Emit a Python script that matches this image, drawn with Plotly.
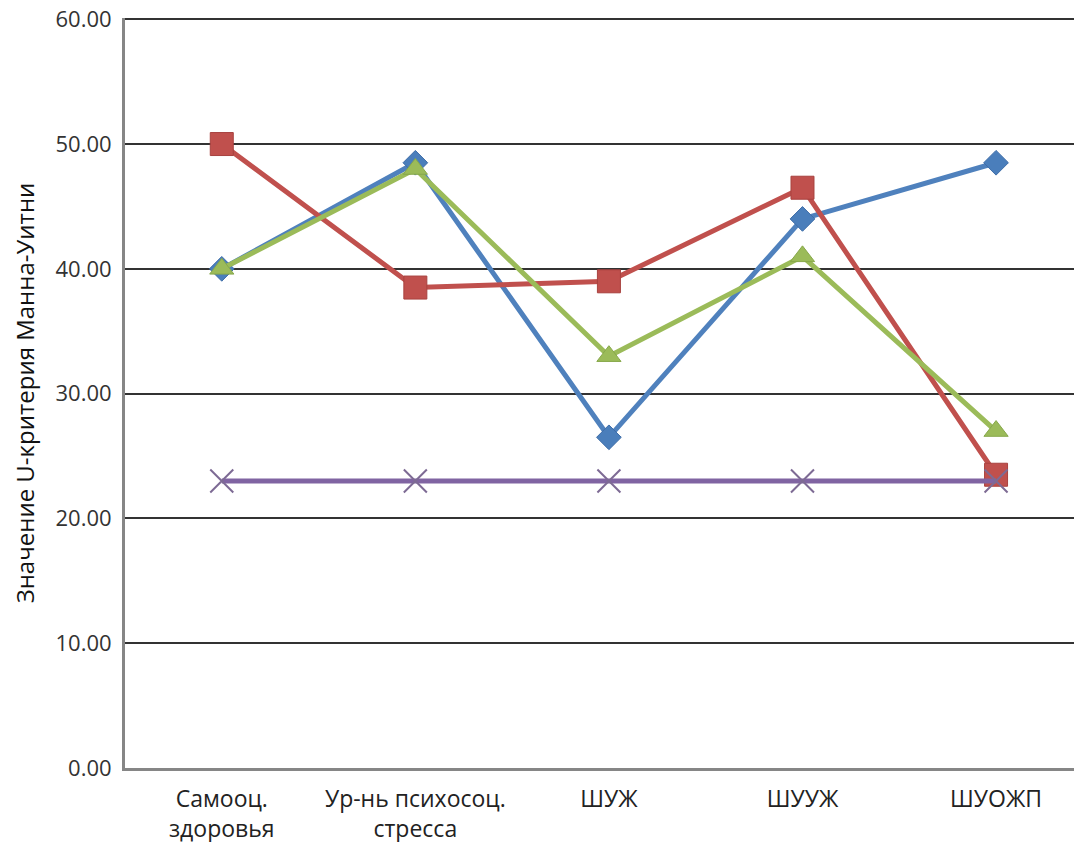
import plotly.graph_objects as go

categories = ["Самооц.<br>здоровья", "Ур-нь психосоц.<br>стресса", "ШУЖ", "ШУУЖ", "ШУОЖП"]
series_blue = [40.0, 48.5, 26.5, 44.0, 48.5]
series_red = [50.0, 38.5, 39.0, 46.5, 23.5]
series_green = [40.0, 48.0, 33.0, 41.0, 27.0]
series_purple = [23.0, 23.0, 23.0, 23.0, 23.0]
y_ticks = [0, 10, 20, 30, 40, 50, 60]
y_tick_labels = ["0.00", "10.00", "20.00", "30.00", "40.00", "50.00", "60.00"]
y_title = "Значение U-критерия Манна-Уитни"

x_idx = list(range(len(categories)))

fig = go.Figure()
fig.add_trace(go.Scatter(x=x_idx, y=series_blue, mode="lines+markers",
                         line=dict(color="#4F81BD", width=5),
                         marker=dict(symbol="diamond", size=19, color="#4A7EBB",
                                     line=dict(color="#3E6DA8", width=1))))
fig.add_trace(go.Scatter(x=x_idx, y=series_red, mode="lines+markers",
                         line=dict(color="#C0504D", width=5),
                         marker=dict(symbol="square", size=23, color="#C0504D",
                                     line=dict(color="#A8423F", width=1))))
fig.add_trace(go.Scatter(x=x_idx, y=series_green, mode="lines+markers",
                         line=dict(color="#9BBB59", width=5),
                         marker=dict(symbol="triangle-up", size=21, color="#9BBB59",
                                     line=dict(color="#87A84B", width=1))))
fig.add_trace(go.Scatter(x=x_idx, y=series_purple, mode="lines+markers",
                         line=dict(color="#8064A2", width=5),
                         marker=dict(symbol="x-thin", size=23, color="#7D6A94",
                                     line=dict(color="#7D6A94", width=2))))

fig.update_layout(
    width=1082, height=842,
    margin=dict(l=117, r=8, t=10, b=82),
    paper_bgcolor="white", plot_bgcolor="white",
    showlegend=False,
    font=dict(family="Open Sans", color="#222222"),
)
fig.update_xaxes(
    tickmode="array", tickvals=x_idx, ticktext=categories,
    range=[-0.5, 4.444], showgrid=False, zeroline=False,
    showline=True, linecolor="#868686", linewidth=3,
    tickfont=dict(size=23, family="Open Sans", color="#222222"),
    ticks="", ticklabelstandoff=8, automargin=False,
)
fig.update_yaxes(
    tickmode="array", tickvals=y_ticks, ticktext=y_tick_labels,
    range=[0, 60.1], showgrid=True, gridcolor="#333333", gridwidth=2,
    zeroline=False, showline=True, linecolor="#868686", linewidth=3,
    tickfont=dict(size=22, family="Open Sans", color="#333333"),
    ticks="", ticklabelstandoff=6, ticklabeloverflow="allow", automargin=False,
    title=dict(text=y_title, font=dict(size=24, family="Open Sans", color="#111111"), standoff=17),
)
fig.write_html("out.html")
